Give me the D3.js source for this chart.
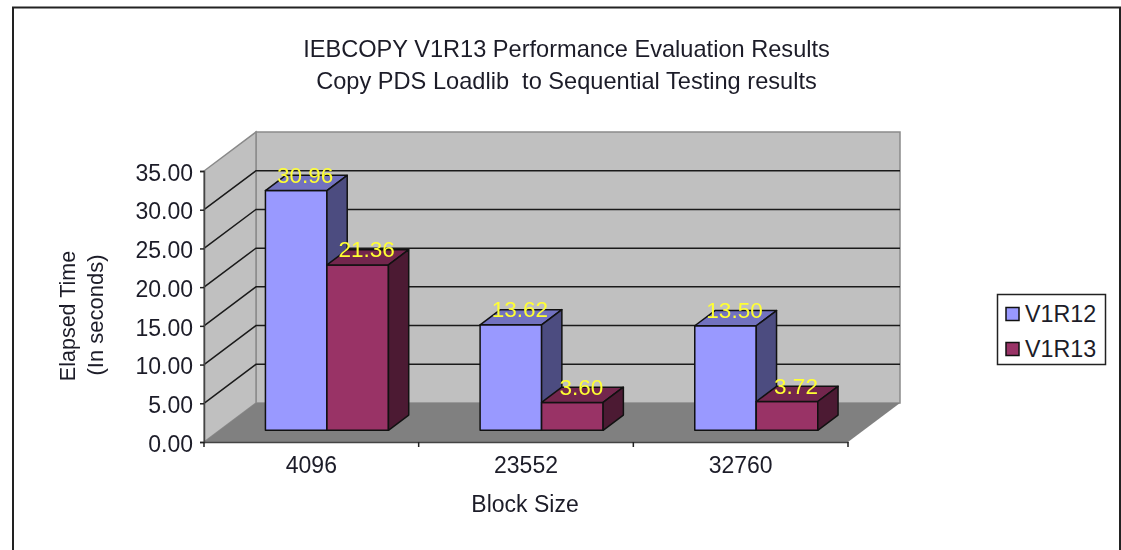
<!DOCTYPE html>
<html>
<head>
<meta charset="utf-8">
<script src="https://cdn.jsdelivr.net/npm/d3@7"></script>
<style>
  html, body { margin: 0; padding: 0; background: #fff; overflow: hidden; }
  svg { filter: blur(0.4px); }
  text { font-family: "Liberation Sans", Arial, sans-serif; fill: #1c1c28; }
</style>
</head>
<body>
<div id="chart"></div>
<script>
const categories = ["4096", "23552", "32760"];
const seriesNames = ["V1R12", "V1R13"];
const v1r12 = [30.96, 13.62, 13.50];
const v1r13 = [21.36, 3.60, 3.72];
const yTicks = [0, 5, 10, 15, 20, 25, 30, 35];
const titleLines = ["IEBCOPY V1R13 Performance Evaluation Results", "Copy PDS Loadlib  to Sequential Testing results"];

const colors = { V1R12: ["#9999ff", "#7272bf", "#4c4c80"], V1R13: ["#993366", "#73264d", "#4c1a33"] };

const width = 1121, height = 550;

const svg = d3.select("#chart").append("svg")
    .attr("width", width)
    .attr("height", height);

// plot box, front plane
const left = 204, right = 848, bottom = 442, top_ = 171;
// how far the back wall is pushed
const depthX = 52, depthY = -39;

const x = d3.scaleBand().domain(categories).range([left, right]).paddingInner(0.427).paddingOuter(0.2135);
const xSeries = d3.scaleBand().domain(seriesNames).range([0, x.bandwidth()]);
const y = d3.scaleLinear().domain([0, 35]).range([bottom, top_]);

// depth 0 = front plane, 1 = back wall
function px(v, d) { return v + depthX * d; }
function py(v, d) { return v + depthY * d; }
function poly(pts) { return pts.map(p => p.join(",")).join(" "); }

// border of the pasted picture
svg.append("path")
    .attr("d", "M13,550V7.5H1120V550")
    .attr("fill", "none")
    .attr("stroke", "#222")
    .attr("stroke-width", 2);

// walls and floor
svg.append("polygon")
    .attr("points", poly([[px(left, 1), py(y(35), 1)], [px(right, 1), py(y(35), 1)], [px(right, 1), py(y(0), 1)], [px(left, 1), py(y(0), 1)]]))
    .attr("fill", "#c0c0c0").attr("stroke", "#8a8a8a").attr("stroke-width", 1.5);
svg.append("polygon")
    .attr("points", poly([[left, y(35)], [px(left, 1), py(y(35), 1)], [px(left, 1), py(y(0), 1)], [left, y(0)]]))
    .attr("fill", "#c0c0c0").attr("stroke", "#8a8a8a").attr("stroke-width", 1.5);
svg.append("polygon")
    .attr("points", poly([[left, y(0)], [right, y(0)], [px(right, 1), py(y(0), 1)], [px(left, 1), py(y(0), 1)]]))
    .attr("fill", "#808080");

// gridlines on both walls
yTicks.filter(t => t > 0 && t < 35).forEach(t => {
    svg.append("polyline")
        .attr("points", poly([[left, y(t)], [px(left, 1), py(y(t), 1)], [px(right, 1), py(y(t), 1)]]))
        .attr("fill", "none")
        .attr("stroke", "#1a1a1a")
        .attr("stroke-width", 1.5);
});

// bars
const d0 = 0.3, d1 = 0.69;
const rows = [];
categories.forEach((c, i) => {
    rows.push({ cat: c, name: "V1R12", value: v1r12[i] });
    rows.push({ cat: c, name: "V1R13", value: v1r13[i] });
});

const bars = svg.selectAll("g.bar").data(rows).enter().append("g").attr("class", "bar");
bars.each(function (d) {
    const g = d3.select(this);
    const a = x(d.cat) + xSeries(d.name), b = a + xSeries.bandwidth();
    const t = y(d.value), z = y(0);
    const c = colors[d.name];
    const faces = [
        [c[0], [[px(a, d0), py(t, d0)], [px(b, d0), py(t, d0)], [px(b, d0), py(z, d0)], [px(a, d0), py(z, d0)]]],
        [c[1], [[px(a, d0), py(t, d0)], [px(a, d1), py(t, d1)], [px(b, d1), py(t, d1)], [px(b, d0), py(t, d0)]]],
        [c[2], [[px(b, d0), py(t, d0)], [px(b, d1), py(t, d1)], [px(b, d1), py(z, d1)], [px(b, d0), py(z, d0)]]]
    ];
    faces.forEach(f => {
        g.append("polygon")
            .attr("points", poly(f[1]))
            .attr("fill", f[0])
            .attr("stroke", "#111")
            .attr("stroke-width", 1.5)
            .attr("stroke-linejoin", "round");
    });
});

// value labels
svg.selectAll("text.val").data(rows).enter().append("text")
    .attr("class", "val")
    .attr("x", d => px(x(d.cat) + xSeries(d.name) + xSeries.bandwidth() / 2, d0) + 9)
    .attr("y", d => py(y(d.value), d0) - 7.5)
    .attr("text-anchor", "middle")
    .style("fill", "#ffff33")
    .style("font-size", "22.5px")
    .text(d => d3.format(".2f")(d.value));

// axes
const yAxis = svg.append("g")
    .attr("transform", "translate(" + left + ",0)")
    .call(d3.axisLeft(y).tickValues(yTicks).tickFormat(d3.format(".2f")).tickSize(4).tickPadding(7));
yAxis.selectAll("text").style("font-size", "23px").attr("dy", "0.4em");
yAxis.selectAll("line").attr("stroke", "#222").attr("stroke-width", 1.5);
yAxis.select(".domain").attr("stroke", "#444").attr("stroke-width", 1.5);

const xAxis = svg.append("g")
    .attr("transform", "translate(0," + bottom + ")")
    .call(d3.axisBottom(x).tickSize(0).tickPadding(14.5));
xAxis.selectAll("text").style("font-size", "23px");
xAxis.select(".domain").attr("stroke", "#444").attr("stroke-width", 1.5);

// ticks sit between the categories
const step = x.step();
xAxis.selectAll("line.sep").data(d3.range(categories.length + 1)).enter().append("line")
    .attr("class", "sep")
    .attr("x1", d => left + d * step).attr("x2", d => left + d * step)
    .attr("y1", 0).attr("y2", 5)
    .attr("stroke", "#222").attr("stroke-width", 1.5);

// titles
svg.selectAll("text.title").data(titleLines).enter().append("text")
    .attr("class", "title")
    .attr("x", 566.5)
    .attr("y", (d, i) => 57 + i * 32)
    .attr("text-anchor", "middle")
    .style("font-size", "23.6px")
    .style("white-space", "pre")
    .attr("xml:space", "preserve")
    .text(d => d);

svg.append("text").attr("x", 525).attr("y", 512).attr("text-anchor", "middle")
    .style("font-size", "23px").text("Block Size");

svg.append("text").attr("transform", "translate(75,316) rotate(-90)").attr("text-anchor", "middle")
    .style("font-size", "21.5px").text("Elapsed Time");
svg.append("text").attr("transform", "translate(103,315) rotate(-90)").attr("text-anchor", "middle")
    .style("font-size", "22px").text("(In seconds)");

// legend
const legend = svg.append("g").attr("transform", "translate(997,294)");
legend.append("rect").attr("x", 0.5).attr("y", 0.5).attr("width", 108).attr("height", 70)
    .attr("fill", "#fff").attr("stroke", "#222").attr("stroke-width", 1.5);
seriesNames.forEach((n, i) => {
    legend.append("rect").attr("x", 9).attr("y", 13.5 + i * 35).attr("width", 13).attr("height", 13)
        .attr("fill", colors[n][0]).attr("stroke", "#111").attr("stroke-width", 1.5);
    legend.append("text").attr("x", 28).attr("y", 28 + i * 35).style("font-size", "23.3px").text(n);
});
</script>
</body>
</html>
